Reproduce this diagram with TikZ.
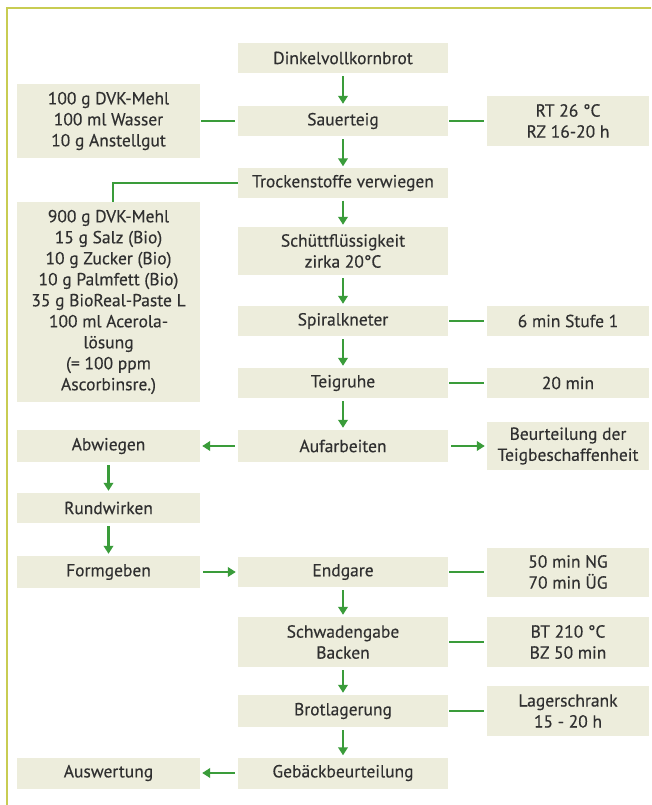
\documentclass[tikz,border=0pt]{standalone}
\usepackage{fontspec}
\setmainfont{PT Sans}[FakeBold=0.35]
\usetikzlibrary{arrows.meta}
\definecolor{boxfill}{RGB}{237,237,220}
\definecolor{lgreen}{RGB}{58,156,58}
\definecolor{framecol}{RGB}{200,204,82}
\definecolor{txt}{RGB}{48,48,48}
\begin{document}
\begin{tikzpicture}[x=1pt,y=-1pt,
  box/.style={fill=boxfill, text=txt, align=center, inner sep=0pt, font=\fontsize{17.5}{21}\selectfont},
  cbox/.style={box, minimum width=210pt},
  lbox/.style={box, minimum width=183pt},
  rbox/.style={box, minimum width=162pt},
  arr/.style={draw=lgreen, line width=2.8pt, -{Triangle[width=9.5pt,length=8pt]}, shorten >=2pt, shorten <=3pt},
  link/.style={draw=lgreen, line width=2.8pt, shorten >=3pt, shorten <=1pt}]
\useasboundingbox (0,0) rectangle (651,805);
\fill[white] (0,0) rectangle (651,805);
\draw[framecol, line width=2.5pt] (7,805) -- (7,8) -- (651,8);

% center column
\node[cbox, minimum height=30pt] (dink) at (343,58) {Dinkelvollkornbrot};
\node[cbox, minimum height=30pt] (sauer) at (343,121) {Sauerteig};
\node[cbox, minimum height=29pt] (trock) at (343,183) {Trockenstoffe verwiegen};
\node[cbox, minimum height=48pt] (schuett) at (343,251) {Schüttflüssigkeit\\zirka 20°C};
\node[cbox, minimum height=30pt] (spiral) at (343,321) {Spiralkneter};
\node[cbox, minimum height=30pt] (teig) at (343,383) {Teigruhe};
\node[cbox, minimum height=32pt] (aufarb) at (343,446) {Aufarbeiten};
\node[cbox, minimum height=30pt] (endgare) at (343,572) {Endgare};
\node[cbox, minimum height=50pt] (schwaden) at (343,642) {Schwadengabe\\Backen};
\node[cbox, minimum height=32pt] (brot) at (343,711) {Brotlagerung};
\node[cbox, minimum height=31pt] (gebaeck) at (343,773) {Gebäckbeurteilung};

% left column
\node[lbox, minimum height=74pt] (mehl) at (108.5,121) {100 g DVK-Mehl\\100 ml Wasser\\10 g Anstellgut};
\node[lbox, minimum height=200pt] (zut) at (108.5,302) {900 g DVK-Mehl\\15 g Salz (Bio)\\10 g Zucker (Bio)\\10 g Palmfett (Bio)\\35 g BioReal-Paste L\\100 ml Acerola-\\lösung\\(= 100 ppm\\Ascorbinsre.)};
\node[lbox, minimum height=32pt] (abwiegen) at (108.5,446) {Abwiegen};
\node[lbox, minimum height=30pt] (rund) at (108.5,508) {Rundwirken};
\node[lbox, minimum height=32pt] (form) at (108.5,572) {Formgeben};
\node[lbox, minimum height=31pt] (ausw) at (108.5,773) {Auswertung};

% right column
\node[rbox, minimum height=50pt] (rt) at (568,121) {RT 26 °C\\RZ 16-20 h};
\node[rbox, minimum height=30pt] (stufe) at (568,321) {6 min Stufe 1};
\node[rbox, minimum height=30pt] (min20) at (568,383) {20 min};
\node[rbox, minimum height=48pt] (beurt) at (568,446) {Beurteilung der\\Teigbeschaffenheit};
\node[rbox, minimum height=49pt] (ng) at (568,572) {50 min NG\\70 min ÜG};
\node[rbox, minimum height=50pt] (bt) at (568,642) {BT 210 °C\\BZ 50 min};
\node[rbox, minimum height=50pt] (lager) at (568,711) {Lagerschrank\\15 - 20 h};

\coordinate (zuttop) at (113,202);

% vertical flow
\draw[arr] (dink) -- (sauer);
\draw[arr] (sauer) -- (trock);
\draw[arr] (trock) -- (schuett);
\draw[arr] (schuett) -- (spiral);
\draw[arr] (spiral) -- (teig);
\draw[arr] (teig) -- (aufarb);
\draw[arr] (endgare) -- (schwaden);
\draw[arr] (schwaden) -- (brot);
\draw[arr] (brot) -- (gebaeck);
\draw[arr] (abwiegen) -- (rund);
\draw[arr] (rund) -- (form);

% horizontal
\draw[link] (mehl) -- (sauer);
\draw[link] (sauer) -- (rt);
\draw[link] (spiral) -- (stufe);
\draw[link] (teig) -- (min20);
\draw[link] (endgare) -- (ng);
\draw[link] (schwaden) -- (bt);
\draw[link] (brot) -- (lager);
\draw[arr] (aufarb) -- (abwiegen);
\draw[arr] (aufarb) -- (beurt);
\draw[arr] (form) -- (endgare);
\draw[arr] (gebaeck) -- (ausw);
\draw[draw=lgreen, line width=2.8pt] (trock.west) -| (zuttop);
\end{tikzpicture}
\end{document}
